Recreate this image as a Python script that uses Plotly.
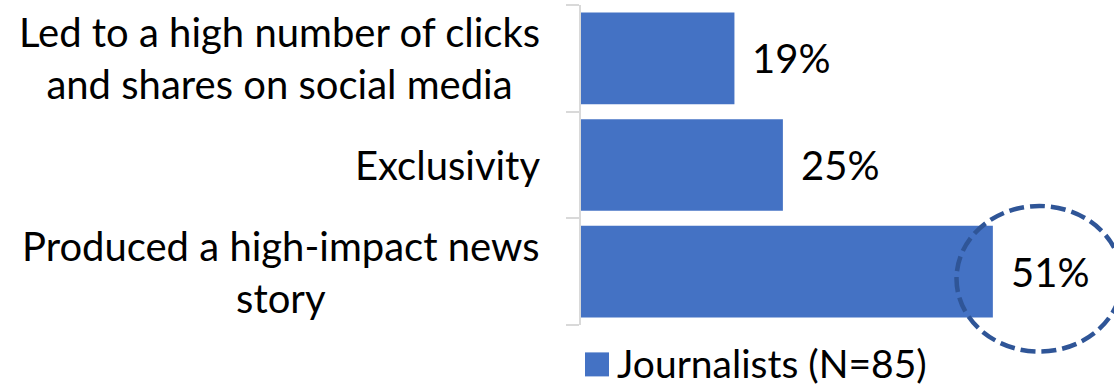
import plotly.graph_objects as go

# Data
categories = [
    "Led to a high number of clicks<br>and shares on social media",
    "Exclusivity",
    "Produced a high-impact news<br>story",
]
values = [19, 25, 51]
series_name = "Journalists (N=85)"

BAR_COLOR = "#4472C4"
FONT = "Lato"
FS = 40

W, H = 1114, 387
ML, MR, MT, MB = 581, 0, 5, 62
XMAX = 66
LEG_Y = -0.12

fig = go.Figure()
fig.add_trace(go.Bar(
    y=categories, x=values, orientation="h",
    marker=dict(color=BAR_COLOR, line=dict(width=0)),
    name=series_name, showlegend=False, hoverinfo="x+y",
))

annotations = []
# category labels (centered lines, right-aligned block)
for c in categories:
    annotations.append(dict(
        x=0, xref="paper", y=c, yref="y", text=c, showarrow=False,
        xanchor="right", yanchor="middle", align="center", xshift=-39,
        font=dict(family=FONT, size=FS, color="#000000"),
    ))
# value labels
for c, v in zip(categories, values):
    annotations.append(dict(
        x=v, xref="x", y=c, yref="y", text=f"{v}%", showarrow=False,
        xanchor="left", yanchor="middle", xshift=16,
        font=dict(family=FONT, size=FS, color="#000000"),
    ))
# legend text
annotations.append(dict(
    x=0, xref="paper", y=LEG_Y, yref="paper", text=series_name,
    showarrow=False, xanchor="left", yanchor="middle", xshift=35,
    borderpad=0,
    font=dict(family=FONT, size=39, color="#000000"),
))

shapes = [
    # legend swatch (pixel-sized, anchored below the plot)
    dict(type="rect", xref="paper", yref="paper",
         xsizemode="pixel", ysizemode="pixel", xanchor=0, yanchor=LEG_Y,
         x0=4, x1=28, y0=-13, y1=11,
         fillcolor=BAR_COLOR, line=dict(width=0)),
    # highlight ellipse around the top value
    dict(type="circle", xref="x", yref="paper",
         x0=values[2] - 4.5, x1=values[2] + 16,
         y0=-0.083, y1=0.372,
         line=dict(color="#2F5597", width=4.5, dash="15px,6px"),
         fillcolor="rgba(0,0,0,0)", layer="above"),
]

fig.update_layout(
    width=W, height=H,
    margin=dict(l=ML, r=MR, t=MT, b=MB, pad=0),
    paper_bgcolor="white", plot_bgcolor="white",
    bargap=0.14,
    showlegend=False,
    annotations=annotations,
    shapes=shapes,
    xaxis=dict(range=[0, XMAX], visible=False, fixedrange=True),
    yaxis=dict(
        categoryorder="array", categoryarray=categories[::-1],
        showticklabels=False, showline=True, linecolor="#D9D9D9", linewidth=2,
        ticks="outside", ticklen=13, tickcolor="#D9D9D9", tickwidth=2,
        tickson="boundaries", showgrid=False, zeroline=False,
    ),
)

fig.write_html("out.html")
